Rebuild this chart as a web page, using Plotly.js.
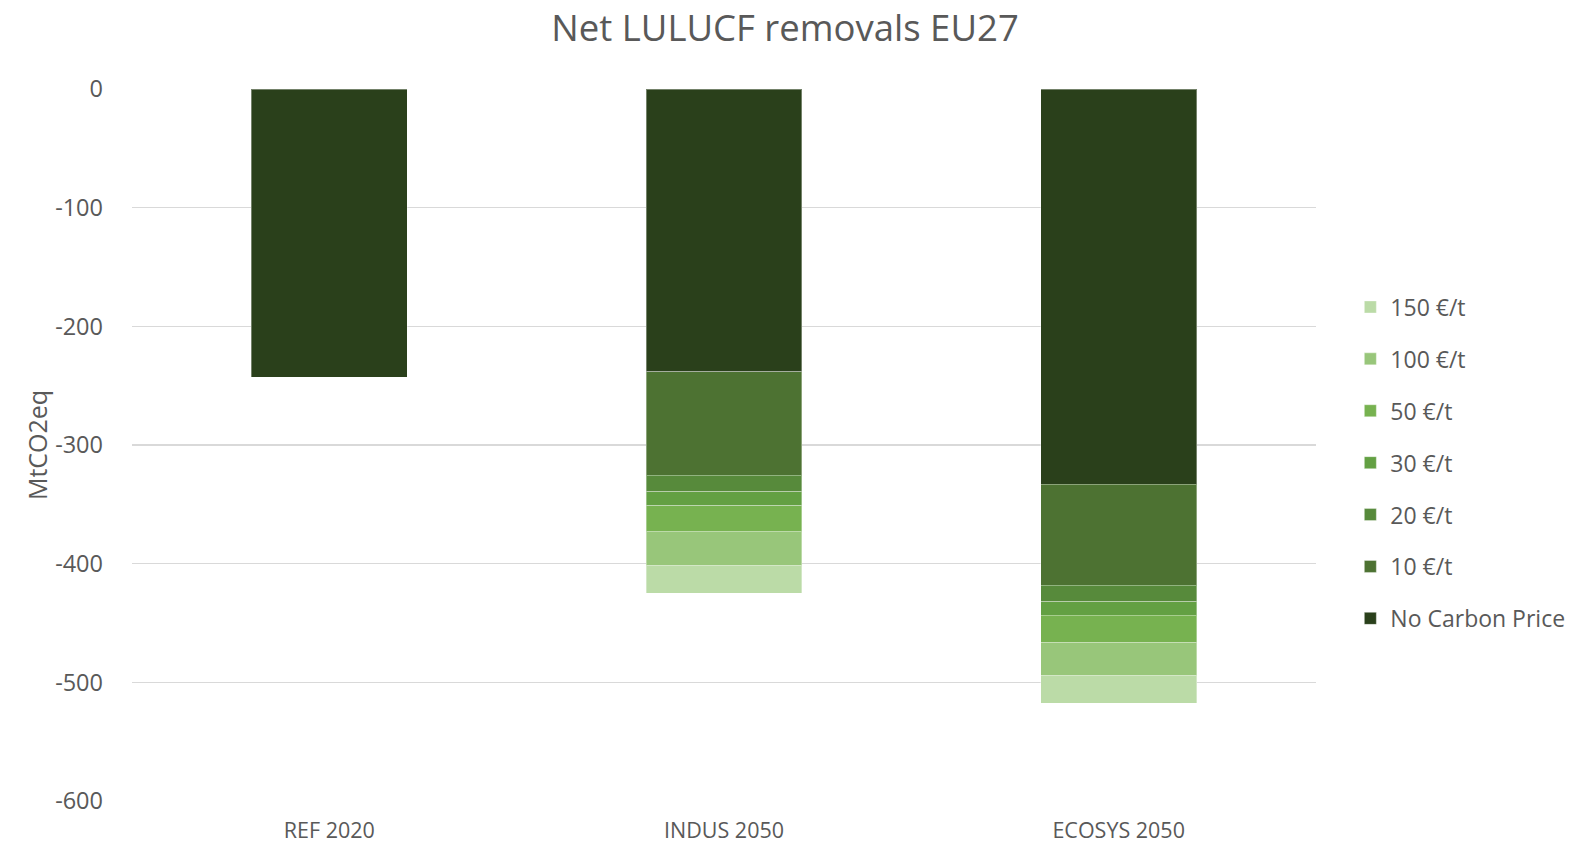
<!DOCTYPE html>
<html>
<head>
<meta charset="utf-8">
<script src="https://cdn.plot.ly/plotly-3.0.1.min.js"></script>
<style>html,body{margin:0;padding:0;background:#fff;}#chart{width:1589px;height:848px;}</style>
</head>
<body>
<div id="chart"></div>
<script>
const categories = ["REF 2020", "INDUS 2050", "ECOSYS 2050"];
const seriesNames = ["No Carbon Price", "10 €/t", "20 €/t", "30 €/t", "50 €/t", "100 €/t", "150 €/t"];
const noCarbonPrice = [-243, -238.4, -332.9];
const price10 = [0, -87.2, -85.1];
const price20 = [0, -13.8, -14.1];
const price30 = [0, -11.8, -11.5];
const price50 = [0, -21.3, -23.1];
const price100 = [0, -29.3, -27.8];
const price150 = [0, -23.2, -23.3];
const yTicks = [0, -100, -200, -300, -400, -500, -600];

const seriesValues = [noCarbonPrice, price10, price20, price30, price50, price100, price150];
const colors = ["#2a401b", "#4d7232", "#578a3b", "#63a043", "#77b250", "#98c67a", "#bbdba7"];

const traces = seriesValues.map((vals, i) => ({
  type: "bar",
  name: seriesNames[i],
  x: categories,
  y: vals,
  legendgroup: "g" + i,
  legendrank: seriesValues.length - i,
  marker: {color: colors[i], line: {color: "rgba(255,255,255,0.35)", width: 1}},
  hoverinfo: "x+y+name"
}));

const font = "'Open Sans', sans-serif";
const layout = {
  width: 1589, height: 848,
  barmode: "stack",
  bargap: 0.605,
  paper_bgcolor: "#ffffff", plot_bgcolor: "#ffffff",
  margin: {l: 132, r: 273, t: 89, b: 47},
  title: {text: "Net LULUCF removals EU27", font: {family: font, size: 36.5, color: "#595959"}, x: 785/1589, xanchor: "center", y: 1 - 28/848, yanchor: "middle"},
  font: {family: font, color: "#595959", size: 23},
  xaxis: {
    showgrid: false, zeroline: false, showline: false, ticks: "",
    tickfont: {size: 21.5, color: "#595959"}, ticklabelstandoff: 14
  },
  yaxis: {
    range: [-600, 0], tickvals: yTicks, ticktext: yTicks.map(String),
    showgrid: true, gridcolor: "#d9d9d9", gridwidth: 1.5, zeroline: false, showline: false,
    ticks: "", ticklabelstandoff: 28, tickfont: {size: 23.5, color: "#595959"},
    title: {text: "MtCO2eq", font: {size: 25, color: "#595959"}, standoff: 0}
  },
  legend: {
    traceorder: "grouped", tracegroupgap: 19,
    x: 1.029, xanchor: "left", y: 0.724, yanchor: "top",
    font: {size: 23, color: "#595959"}, itemwidth: 30
  },
  showlegend: true
};

Plotly.newPlot("chart", traces, layout, {displayModeBar: false, staticPlot: true});
</script>
</body>
</html>
